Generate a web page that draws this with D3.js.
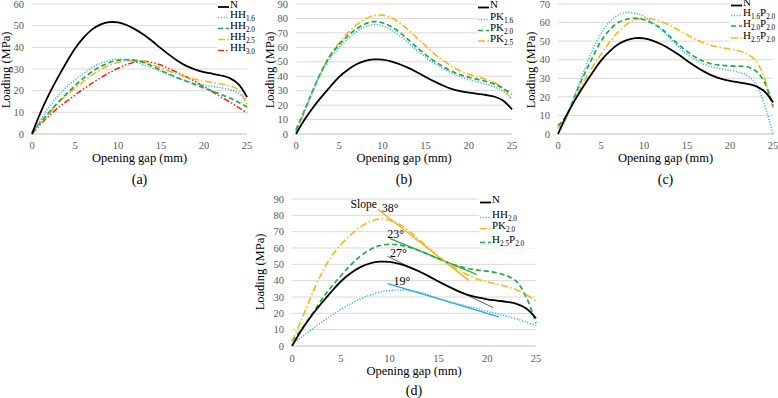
<!DOCTYPE html>
<html>
<head>
<meta charset="utf-8">
<script src="https://cdn.jsdelivr.net/npm/d3@7"></script>
<style>
  body { margin: 0; background: #fff; }
</style>
</head>
<body>
<div id="chart"></div>
<script>
// Opening gap (mm), shared by every curve
const gap = [0,1,2,3,4,5,6,7,8,9,10,11,12,13,14,15,16,17,18,19,20,21,22,23,24,25];

// Loading (MPa)
const N      = [0,10,18.5,26,33,39.5,44.5,48.3,50.6,51.6,51.5,50.3,48.3,45.8,42.8,39.5,36.4,33.6,31.3,29.7,28.6,27.8,27,25.8,23,17];
const HH16   = [0,6.5,12.5,17.5,21.5,25,28,30.7,32.7,34,34.5,34.2,33.3,32,30.5,28.8,27.2,25.7,24.4,23.3,22.5,21.9,21.3,20.5,19,15.5];
const HH20   = [1,5.5,10,14.5,18.5,22.3,25.8,28.8,31.2,33,34,34.3,34,33,31.3,29.3,27.5,25.8,24.3,22.8,21.2,19.8,18.2,16.6,14.7,12.5];
const HH25   = [1,5,9.8,14,17.8,21.2,24.3,27.3,29.8,31.8,33,33.8,34,33.5,32,30.4,28.9,27.5,26.2,25.2,24.5,23.8,23.1,22.2,20.4,13.5];
const HH30   = [0,4.5,8.5,12,15,18,20.8,23.5,26,28.3,30.3,32,33.2,33.6,33,31.8,30,28.2,26.3,24.2,21.8,19.5,17,14.8,12.3,9.6];
const PK16   = [2,15.5,30,43,53,60,66,70.8,74.3,75.8,75,72.3,68,63,58,53,49,45.5,42.3,39.7,37.7,36,34.5,32.5,29.5,24];
const PK20   = [3,16.5,31,44,54.5,62,68,72.8,76.2,77.8,77,74.5,70.3,65.3,60,55,50.5,46.8,43.5,41,39.3,37.8,36.4,34.5,31.5,27.5];
const PK25   = [1.5,15.5,30.5,44,55,63,70,75.5,79.5,82,82.3,80.5,77,72,66.5,61,55.5,51,47,43.8,41.3,39.5,37.8,35.5,31.5,23.5];
const H16P20 = [0,8.5,21.5,33.5,45,54,60.5,64,65.5,65,63.3,60,56,51.5,47,43,40,37.5,36,35,34.3,33.3,31.5,27,16,0];
const H20P20 = [4.5,10,21,31.5,41,50,56,60,61.8,62.3,61.5,59.5,56.8,52.5,48.3,44.5,41.3,39,37.6,37,36.7,36.5,36.2,34,28,15];
const H25P20 = [3,10.5,19,28,36,43,49.5,55,59,61.5,62.3,61.8,60.5,58.5,56,53.5,51,49,47.5,46.5,45.8,44.8,43,39.5,30,14];

// Slope lines in panel (d): [x1, y1, x2, y2] and their angle labels
const slopeNames  = ["PK20", "H25P20", "N", "HH20"];
const slopeLines  = [[8.8,83.7,18.1,40.2],[10.06,65.8,18.9,43.9],[9.8,54.9,20.6,23.5],[9.8,38.2,21.2,17.8]];
const slopeLabels = ["38°", "23°", "27°", "19°"];
const slopeLabelAt = [[9.2,84.5],[9.75,68.4],[10.05,56.8],[10.4,40]];

const xTicks = [0,5,10,15,20,25];

// Styles per series
const styles = {
  N:      {color: "#000000", dash: null,              width: 1.8},
  HH16:   {color: "#3fb4e6", dash: "1.2,1.6",         width: 1.5},
  HH20:   {color: "#1fa84a", dash: "5,3",             width: 1.7},
  HH25:   {color: "#f5b914", dash: "7,2.5,1.5,2.5",   width: 1.6},
  HH30:   {color: "#e8301f", dash: "6,2,1.5,2,1.5,2", width: 1.6},
  PK16:   {color: "#3fb4e6", dash: "1.2,1.6",         width: 1.5},
  PK20:   {color: "#1fa84a", dash: "5,3",             width: 1.7},
  PK25:   {color: "#f5b914", dash: "7,2.5,1.5,2.5",   width: 1.6},
  H16P20: {color: "#3fb4e6", dash: "1.2,1.6",         width: 1.5},
  H20P20: {color: "#1fa84a", dash: "5,3",             width: 1.7},
  H25P20: {color: "#f5b914", dash: "7,2.5,1.5,2.5",   width: 1.6}
};
const seriesData = {N, HH16, HH20, HH25, HH30, PK16, PK20, PK25, H16P20, H20P20, H25P20};

const panels = [
  {id: "(a)", left: 32, right: 247, top: 4, bottom: 134, yMax: 60, tickY: 149, titleY: 162, labelY: 184, yTitleX: 6, yTitleY: 70,
   series: ["N","HH16","HH20","HH25","HH30"],
   legend: {x: 218, ys: [7,17.5,28.5,39.5,50.5], labels: ["N","HH_{1.6}","HH_{2.0}","HH_{2.5}","HH_{3.0}"]}},
  {id: "(b)", left: 296, right: 512, top: 4, bottom: 134, yMax: 90, tickY: 149, titleY: 162, labelY: 184, yTitleX: 270, yTitleY: 70,
   series: ["N","PK16","PK20","PK25"],
   legend: {x: 478, ys: [7.5,19.5,30.5,41], labels: ["N","PK_{1.6}","PK_{2.0}","PK_{2.5}"]}},
  {id: "(c)", left: 558, right: 773, top: 4, bottom: 134, yMax: 70, tickY: 149, titleY: 162, labelY: 184, yTitleX: 531, yTitleY: 70,
   series: ["N","H16P20","H20P20","H25P20"],
   legend: {x: 731, ys: [5.5,15.5,26,38], labels: ["N","H_{1.6}P_{2.0}","H_{2.0}P_{2.0}","H_{2.5}P_{2.0}"]}},
  {id: "(d)", left: 292, right: 536, top: 199, bottom: 346, yMax: 90, tickY: 362, titleY: 375, labelY: 395, yTitleX: 260, yTitleY: 272,
   series: ["N","HH20","PK20","H25P20"],
   styleOverride: {HH20: styles.HH16, PK20: styles.PK25, H25P20: styles.HH20},
   legend: {x: 480, ys: [202.5,217.5,228.5,242.5], labels: ["N","HH_{2.0}","PK_{2.0}","H_{2.5}P_{2.0}"]}}
];

const svg = d3.select("#chart").append("svg")
    .attr("width", 778)
    .attr("height", 398)
    .style("font-family", "'Liberation Serif', 'Times New Roman', Times, serif");

// write "HH_{1.6}" style labels with subscripts
function richText(sel, label, size) {
  const parts = label.split(/(_\{[^}]*\})/).filter(s => s.length);
  parts.forEach(p => {
    if (p.startsWith("_{")) {
      sel.append("tspan").text(p.slice(2, -1))
        .attr("font-size", size * 0.66)
        .attr("dy", size * 0.25);
    } else {
      sel.append("tspan").text(p)
        .attr("font-size", size)
        .attr("dy", sel.selectAll("tspan").size() > 0 ? -size * 0.25 : 0);
    }
  });
}

panels.forEach(p => {
  const g = svg.append("g");
  const x = d3.scaleLinear().domain([0, 25]).range([p.left, p.right]);
  const y = d3.scaleLinear().domain([0, p.yMax]).range([p.bottom, p.top]);
  const yTicks = y.ticks(p.yMax / 10);

  // horizontal grid lines
  g.selectAll(".grid")
    .data(yTicks)
    .join("line")
    .attr("x1", p.left)
    .attr("x2", p.right)
    .attr("y1", d => y(d))
    .attr("y2", d => y(d))
    .attr("stroke", d => d === 0 ? "#bfbfbf" : "#d9d9d9")
    .attr("stroke-width", 1);

  // y tick labels
  g.selectAll(".ylab")
    .data(yTicks)
    .join("text")
    .attr("x", p.left - 8)
    .attr("y", d => y(d))
    .attr("dy", "0.35em")
    .attr("text-anchor", "end")
    .attr("font-size", 10.5)
    .attr("fill", "#595959")
    .text(d => d);

  // x tick labels
  g.selectAll(".xlab")
    .data(xTicks)
    .join("text")
    .attr("x", d => x(d))
    .attr("y", p.tickY)
    .attr("text-anchor", "middle")
    .attr("font-size", 10.5)
    .attr("fill", "#595959")
    .text(d => d);

  // axis titles
  g.append("text")
    .attr("x", (p.left + p.right) / 2)
    .attr("y", p.titleY)
    .attr("text-anchor", "middle")
    .attr("font-size", 12.5)
    .text("Opening gap (mm)");

  g.append("text")
    .attr("transform", `translate(${p.yTitleX + 4},${p.yTitleY}) rotate(-90)`)
    .attr("text-anchor", "middle")
    .attr("font-size", 12.5)
    .text("Loading (MPa)");

  g.append("text")
    .attr("x", (p.left + p.right) / 2)
    .attr("y", p.labelY)
    .attr("text-anchor", "middle")
    .attr("font-size", 14)
    .text(p.id);

  const line = d3.line()
    .x((d, i) => x(gap[i]))
    .y(d => y(d))
    .curve(d3.curveCatmullRom.alpha(0.5));

  // slope lines and angles in (d)
  if (p.id === "(d)") {
    const slopeStyle = {PK20: {c: "#f0b21c", w: 1.4}, H25P20: {c: "#2cae4c", w: 1.4}, N: {c: "#333", w: 0.8}, HH20: {c: "#2aa7de", w: 1.4}};
    slopeLines.forEach((s, i) => {
      const st = slopeStyle[slopeNames[i]];
      g.append("line")
        .attr("x1", x(s[0])).attr("y1", y(s[1]))
        .attr("x2", x(s[2])).attr("y2", y(s[3]))
        .attr("stroke", st.c)
        .attr("stroke-width", st.w);
      g.append("text")
        .attr("x", x(slopeLabelAt[i][0]))
        .attr("y", y(slopeLabelAt[i][1]))
        .attr("dy", "0.35em")
        .attr("font-size", 12)
        .text(slopeLabels[i]);
    });
    g.append("text")
      .attr("x", x(6.0))
      .attr("y", y(87))
      .attr("dy", "0.35em")
      .attr("font-size", 11.5)
      .text("Slope");
  }

  // curves
  p.series.slice().reverse().forEach(name => {
    const st = (p.styleOverride && p.styleOverride[name]) || styles[name];
    g.append("path")
      .datum(seriesData[name])
      .attr("fill", "none")
      .attr("stroke", st.color)
      .attr("stroke-width", st.width)
      .attr("stroke-dasharray", st.dash)
      .attr("d", line);
  });

  // legend
  const lg = p.legend;
  g.append("rect")
    .attr("x", lg.x - 1)
    .attr("y", lg.ys[0] - 6)
    .attr("width", p.right - lg.x + 2)
    .attr("height", lg.ys[lg.ys.length - 1] - lg.ys[0] + 12)
    .attr("fill", "#fff");
  p.series.forEach((name, i) => {
    const st = (p.styleOverride && p.styleOverride[name]) || styles[name];
    g.append("line")
      .attr("x1", lg.x)
      .attr("x2", lg.x + 11)
      .attr("y1", lg.ys[i])
      .attr("y2", lg.ys[i])
      .attr("stroke", st.color)
      .attr("stroke-width", st.width)
      .attr("stroke-dasharray", st.dash);
    const t = g.append("text")
      .attr("x", lg.x + 12)
      .attr("y", lg.ys[i] + 3.5);
    richText(t, lg.labels[i], 11);
  });
});
</script>
</body>
</html>
